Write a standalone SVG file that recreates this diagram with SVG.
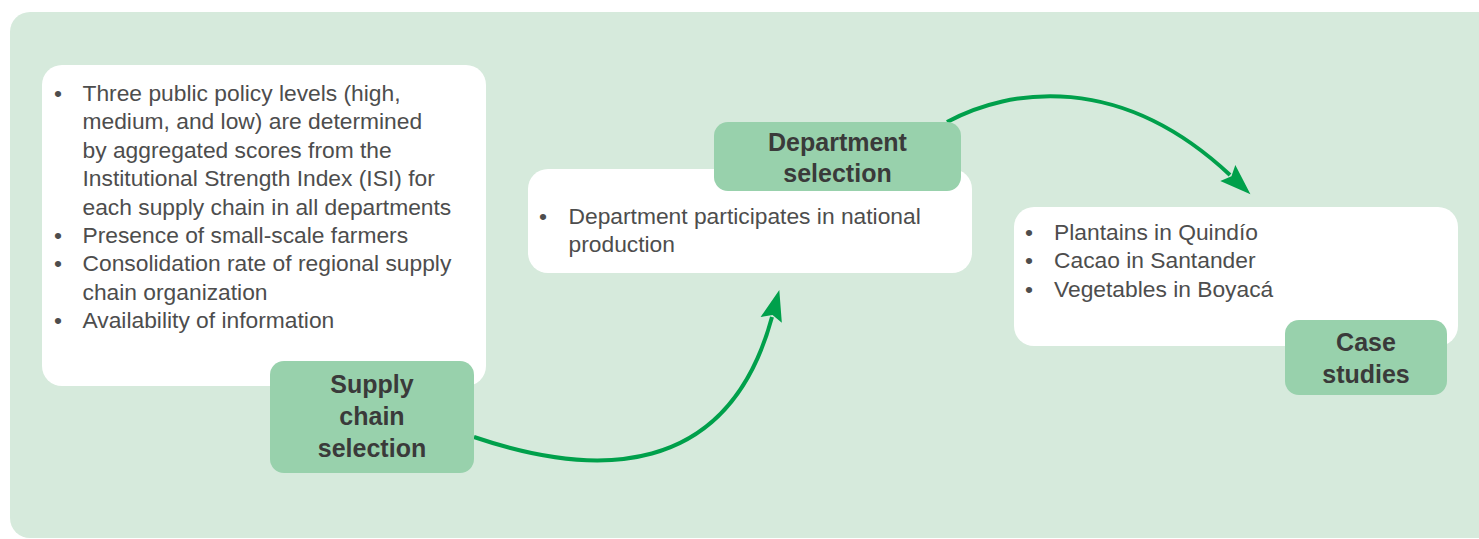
<svg xmlns="http://www.w3.org/2000/svg" width="1479" height="539" viewBox="0 0 1479 539">
  <style>
    .panel { fill: #d6eadc; }
    .card { fill: #ffffff; }
    .tag { fill: #98d1ac; }
    .body { font-family: "Liberation Sans", Arial, sans-serif; font-size: 22.8px; fill: #4d4d4d; }
    .title { font-family: "Liberation Sans", Arial, sans-serif; font-size: 25px; font-weight: bold; fill: #3a3a3a; text-anchor: middle; }
    .flow { fill: none; stroke: #00a04b; stroke-width: 4; }
  </style>
  <defs>
    <marker id="head" markerUnits="userSpaceOnUse" markerWidth="40" markerHeight="30" refX="0" refY="0" viewBox="-4 -15 36 30" orient="auto">
      <path d="M-3,-11 L28,0 L-3,11 L2,0 Z" fill="#00a04b"/>
    </marker>
  </defs>

  <!-- background panel -->
  <rect class="panel" x="10" y="12" width="1490" height="526" rx="20"/>

  <!-- connectors -->
  <g id="connectors">
    <path class="flow" d="M474,437 C595,478 728,480 772,317" marker-end="url(#head)"/>
    <path class="flow" d="M947,122 C1010,88 1120,72 1230,175" marker-end="url(#head)"/>
  </g>

  <!-- step 1 -->
  <g id="supply-chain">
    <rect class="card" x="42" y="65" width="444" height="321" rx="20"/>
    <g class="body">
      <text x="54" y="101">•</text>
      <text x="82.5" y="101">Three public policy levels (high,</text>
      <text x="82.5" y="129.4">medium, and low) are determined</text>
      <text x="82.5" y="157.8">by aggregated scores from the</text>
      <text x="82.5" y="186.2">Institutional Strength Index (ISI) for</text>
      <text x="82.5" y="214.6">each supply chain in all departments</text>
      <text x="54" y="243">•</text>
      <text x="82.5" y="243">Presence of small-scale farmers</text>
      <text x="54" y="271.4">•</text>
      <text x="82.5" y="271.4">Consolidation rate of regional supply</text>
      <text x="82.5" y="299.8">chain organization</text>
      <text x="54" y="328.2">•</text>
      <text x="82.5" y="328.2">Availability of information</text>
    </g>
    <rect class="tag" x="270" y="361" width="204" height="112" rx="14"/>
    <text class="title" x="372" y="393">Supply</text>
    <text class="title" x="372" y="425">chain</text>
    <text class="title" x="372" y="457">selection</text>
  </g>

  <!-- step 2 -->
  <g id="department">
    <rect class="card" x="528" y="169" width="444" height="104" rx="20"/>
    <g class="body">
      <text x="539" y="224">•</text>
      <text x="568.5" y="224">Department participates in national</text>
      <text x="568.5" y="252">production</text>
    </g>
    <rect class="tag" x="714" y="122" width="247" height="69" rx="14"/>
    <text class="title" x="837.5" y="151">Department</text>
    <text class="title" x="837.5" y="182">selection</text>
  </g>

  <!-- step 3 -->
  <g id="case-studies">
    <rect class="card" x="1014" y="207" width="444" height="139" rx="20"/>
    <g class="body">
      <text x="1025" y="240">•</text>
      <text x="1054" y="240">Plantains in Quindío</text>
      <text x="1025" y="268.4">•</text>
      <text x="1054" y="268.4">Cacao in Santander</text>
      <text x="1025" y="296.8">•</text>
      <text x="1054" y="296.8">Vegetables in Boyacá</text>
    </g>
    <rect class="tag" x="1285" y="320" width="162" height="75" rx="14"/>
    <text class="title" x="1366" y="351">Case</text>
    <text class="title" x="1366" y="383">studies</text>
  </g>
</svg>
